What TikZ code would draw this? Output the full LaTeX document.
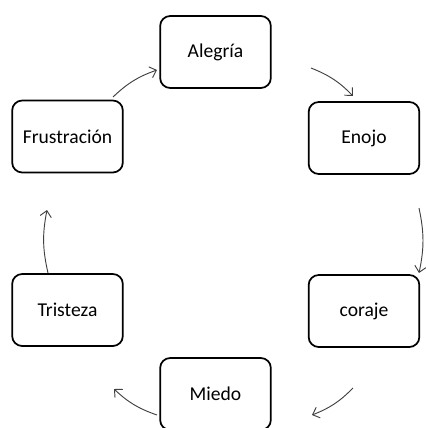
\documentclass[tikz,border=0pt]{standalone}
\usepackage{fontspec}
\setmainfont{Carlito}
\usetikzlibrary{positioning,arrows.meta}

\begin{document}
\begin{tikzpicture}[x=0.75pt, y=-0.75pt,
            estado/.style = {draw, line width=1.3pt, rounded corners=7.5pt,
                             minimum width=83pt, minimum height=54pt,
                             font=\fontsize{14.7}{17}\selectfont},
            flecha/.style = {draw=black!75, line width=0.7pt, bend left=12,
                             -{Straight Barb[length=4.5pt,width=8.5pt]}}]
        \useasboundingbox (0,0) rectangle (425,428);
        % estados
        \node[estado] (ale) at (215.5,52)  {Alegría};
        \node[estado] (eno) at (364,138)   {Enojo};
        \node[estado] (cor) at (364,311)   {coraje};
        \node[estado] (mie) at (215.5,394) {Miedo};
        \node[estado] (tri) at (67.5,310)  {Tristeza};
        \node[estado] (fru) at (67.5,136.5) {Frustración};
        % extremos de las flechas
        \coordinate (fa1) at (113,97);  \coordinate (fa2) at (157,70);
        \coordinate (ae1) at (311,68);  \coordinate (ae2) at (353,96);
        \coordinate (ec1) at (419,208); \coordinate (ec2) at (419,273);
        \coordinate (cm1) at (353,388); \coordinate (cm2) at (312,415);
        \coordinate (mt1) at (157,415); \coordinate (mt2) at (114,389);
        \coordinate (tf1) at (48,273);  \coordinate (tf2) at (47,210);
        \foreach \a in {fa,ae,ec,cm,mt,tf}
                \draw[flecha] (\a1) to (\a2);
\end{tikzpicture}
\end{document}
